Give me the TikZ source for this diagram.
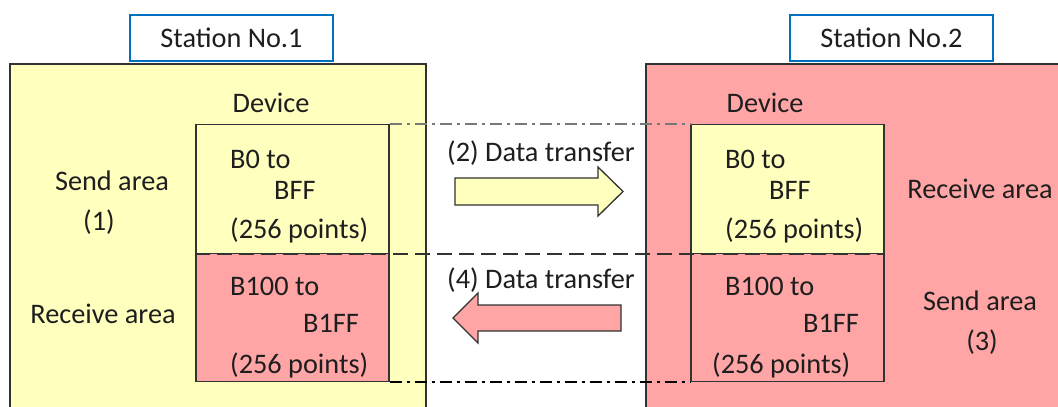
\documentclass[tikz,border=0pt]{standalone}
\usepackage{fontspec}
\setmainfont{Carlito}
\definecolor{yel}{RGB}{255,255,190}
\definecolor{pnk}{RGB}{255,165,165}
\definecolor{stblue}{RGB}{0,112,192}
\definecolor{txt}{RGB}{30,30,30}
\definecolor{edge}{RGB}{50,50,50}
\definecolor{dgray}{RGB}{120,120,120}
\begin{document}
\begin{tikzpicture}[x=1pt,y=-1pt,
  every node/.style={font=\fontsize{28.3}{33}\selectfont, text=txt, inner sep=0pt},
  lbl/.style={anchor=base west},
  lblc/.style={anchor=base},
  station/.style={draw=stblue, line width=2.8pt, fill=white, minimum width=203pt, minimum height=46pt},
  area/.style={draw=edge, line width=1.5pt},
  devbox/.style={draw=edge, line width=1.5pt, minimum width=193pt, minimum height=129pt, anchor=north west},
  dashdotgray/.style={draw=dgray, line width=2pt, dash pattern=on 12pt off 5pt on 3pt off 5pt},
  dashdotblack/.style={draw=black, line width=1.5pt, dash pattern=on 12pt off 5pt on 3pt off 5pt},
  dashmid/.style={draw=edge, line width=1.8pt, dash pattern=on 15pt off 7pt},
  blockarrow/.style={draw=edge, line width=1.3pt, line join=miter}
]
\useasboundingbox (0,0) rectangle (1058,407);
\clip (0,0) rectangle (1058,407);
\fill[white] (0,0) rectangle (1058,407);

% station areas
\draw[area, fill=yel] (10,64) rectangle (426,430);
\draw[area, fill=pnk] (646,64) rectangle (1080,430);

% station titles
\node[station] (st1) at (231.5,38) {Station No.1};
\node[station] (st2) at (891.5,38) {Station No.2};

% device labels
\node[lblc] (dev1) at (271,112) {Device};
\node[lblc] (dev2) at (765,112) {Device};

% device boxes
\node[devbox, fill=yel] (d1s) at (195,123.5) {};
\node[devbox, fill=pnk, minimum height=128pt] (d1r) at (195,252.5) {};
\node[devbox, fill=yel] (d2s) at (690,123.5) {};
\node[devbox, fill=pnk, minimum height=128pt] (d2r) at (690,252.5) {};

% guide lines
\draw[dashdotgray] (d1s.north east) -- (d2s.north west);
\draw[dashmid] (d1s.south west) -- (d2s.south east);
\draw[dashdotblack] (d1r.south east) -- (d2r.south west);

% station 1 texts
\node[lblc] (sa1) at (112,190) {Send area};
\node[lblc] (n1) at (99,230) {(1)};
\node[lblc] (ra1) at (103,323) {Receive area};

% device 1 texts
\node[lbl] (t1a) at (230,168) {B0 to};
\node[lbl] (t1b) at (274,199) {BFF};
\node[lbl] (t1c) at (230,238) {(256 points)};
\node[lbl] (t1d) at (230,295) {B100 to};
\node[lbl] (t1e) at (303,332) {B1FF};
\node[lbl] (t1f) at (230,373) {(256 points)};

% device 2 texts
\node[lbl] (t2a) at (725,168) {B0 to};
\node[lbl] (t2b) at (769,199) {BFF};
\node[lbl] (t2c) at (725,238) {(256 points)};
\node[lbl] (t2d) at (725,295) {B100 to};
\node[lbl] (t2e) at (803,332) {B1FF};
\node[lbl] (t2f) at (712,373) {(256 points)};

% station 2 texts
\node[lblc] (ra2) at (980,198) {Receive area};
\node[lblc] (sa2) at (980,310) {Send area};
\node[lblc] (n3) at (982,350) {(3)};

% transfers
\node[lbl] (tr2) at (447,161) {(2) Data transfer};
\node[lbl] (tr4) at (447,288) {(4) Data transfer};
\draw[blockarrow, fill=yel] (455,178) -- (598,178) -- (598,167) -- (623,191.5) -- (598,216) -- (598,205) -- (455,205) -- cycle;
\draw[blockarrow, fill=pnk] (621,305) -- (478,305) -- (478,293) -- (453,318) -- (478,343) -- (478,331) -- (621,331) -- cycle;
\end{tikzpicture}
\end{document}
